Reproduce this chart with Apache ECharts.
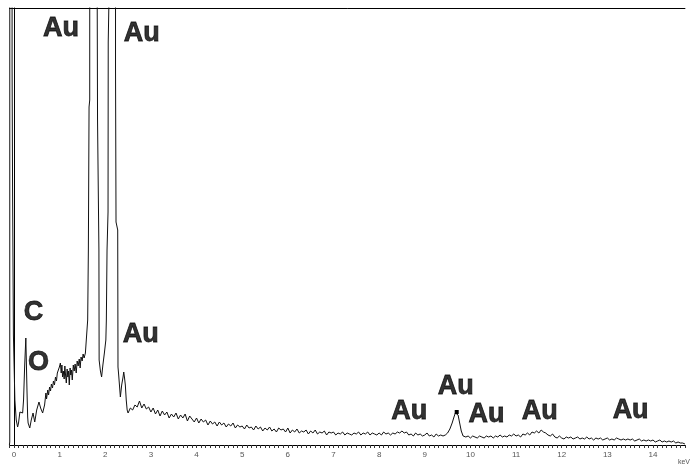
<!DOCTYPE html>
<html>
<head>
<meta charset="utf-8">
<script src="https://cdn.jsdelivr.net/npm/echarts@6/dist/echarts.min.js"></script>
<style>
  html, body { margin: 0; padding: 0; background: #fff; }
  #chart { width: 693px; height: 466px; }
</style>
</head>
<body>
<div id="chart"></div>
<script>
// EDS spectrum: counts vs energy (keV)

// Low-energy part: zero peak, C K, O K and the two strong M-line peaks (clipped at top)
const lowEnergy = [
  [-0.1, 0], [-0.092, 3], [-0.088, 6000], [-0.044, 6000], [-0.041, 380], [-0.03, 250],
  [-0.012, 110], [0.02, 45], [0.05, 25], [0.08, 18], [0.10, 22], [0.13, 33], [0.16, 35],
  [0.19, 32], [0.21, 45], [0.235, 80], [0.26, 107], [0.285, 55], [0.30, 28], [0.31, 22],
  [0.346, 17], [0.379, 25], [0.418, 32], [0.455, 23], [0.498, 35], [0.548, 43], [0.584, 37],
  [0.628, 32], [0.671, 40], [0.70, 52], [0.714, 46], [0.74, 55], [0.758, 50], [0.78, 58],
  [0.801, 54], [0.82, 61], [0.844, 57], [0.865, 64], [0.887, 60], [0.91, 68], [0.931, 64],
  [0.95, 72], [0.974, 70], [0.995, 78], [1.017, 82], [1.035, 72], [1.050, 80], [1.065, 68],
  [1.082, 74], [1.10, 66], [1.115, 79], [1.13, 70], [1.147, 62], [1.165, 76], [1.180, 68],
  [1.195, 74], [1.212, 60], [1.23, 77], [1.245, 70], [1.26, 75], [1.277, 65], [1.30, 80],
  [1.320, 74], [1.34, 81], [1.364, 72], [1.385, 84], [1.407, 79], [1.43, 86], [1.450, 77],
  [1.47, 88], [1.494, 84], [1.515, 91], [1.537, 87], [1.565, 92], [1.587, 93], [1.615, 125],
  [1.630, 195], [1.645, 338], [1.660, 345], [1.663, 6000], [1.820, 6000], [1.824, 437],
  [1.831, 325], [1.861, 195], [1.866, 85], [1.894, 74], [1.920, 68], [1.948, 80], [1.981, 92],
  [2.013, 105], [2.024, 125], [2.039, 195], [2.061, 233], [2.065, 403], [2.078, 437],
  [2.080, 6000], [2.221, 6000], [2.225, 378], [2.236, 223], [2.273, 215], [2.279, 78],
  [2.294, 70], [2.331, 48], [2.36, 60], [2.39, 68], [2.405, 73], [2.42, 68], [2.44, 60],
  [2.46, 45], [2.48, 35]
];

// Bremsstrahlung background, 0.05 keV channels from 2.50 keV
const bgStart1 = 2.50;
const bgCounts1 = [
  32, 37, 35, 40, 38, 44, 37, 41, 36, 38,
  33, 37, 31, 35, 29, 34, 30, 33, 27, 31,
  28, 32, 26, 30, 27, 31, 24, 29, 26, 23,
  27, 22, 26, 23, 25, 20, 24, 21, 23, 19,
  23, 20, 22, 18, 21, 19, 22, 17, 20, 18,
  19, 16, 20, 17, 18, 15, 19, 16, 18, 14,
  17, 15, 18, 14, 16, 13, 17, 15, 16, 13,
  17, 12, 15, 13, 16, 12, 14, 13, 15, 11,
  14, 12, 15, 11, 13, 12, 14, 10, 13, 12,
  13, 10, 12, 11, 13, 10, 12, 11, 10, 12,
  11, 13, 10, 12, 11, 13, 10, 12, 11, 10,
  12, 10, 13, 11, 12, 10, 12, 11, 13, 12,
  14, 12, 13, 10, 11, 9, 12, 10, 11, 9,
  10, 12, 9, 10, 8, 11, 9, 10, 9, 10
];

// L-alpha peak region
const lAlphaPeak = [
  [9.50, 12], [9.55, 16], [9.60, 22], [9.64, 28], [9.67, 32], [9.70, 33], [9.73, 30],
  [9.76, 23], [9.80, 14], [9.84, 9], [9.90, 8], [9.95, 9]
];

// Background above the L-alpha peak, 0.05 keV channels from 10.00 keV
const bgStart2 = 10.00;
const bgCounts2 = [
  7, 9, 8, 7, 9, 8, 7, 9, 8, 9,
  7, 9, 8, 10, 8, 9, 8, 10, 9, 11,
  9, 10, 8, 11, 10, 12, 10, 13, 12, 14,
  12, 15, 13, 12, 10, 9, 11, 8, 7, 9,
  7, 6, 8, 7, 8, 6, 7, 8, 6, 7,
  6, 8, 6, 7, 5, 7, 6, 7, 5, 6,
  7, 5, 6, 5, 7, 6, 5, 6, 5, 6,
  5, 6, 4, 5, 6, 4, 5, 4, 5, 4,
  5, 3, 4, 5, 3, 4, 3, 4, 3, 4,
  2, 3, 2, 2, 1
];
const channelWidth = 0.05;

// Peak labels: element, energy (keV), height (counts)
const peakLabels = [
  { text: 'Au', e: 1.03, v: 416 },
  { text: 'Au', e: 2.80, v: 411 },
  { text: 'C',  e: 0.43, v: 132 },
  { text: 'O',  e: 0.54, v: 82 },
  { text: 'Au', e: 2.78, v: 110 },
  { text: 'Au', e: 8.66, v: 33 },
  { text: 'Au', e: 9.68, v: 58 },
  { text: 'Au', e: 10.35, v: 30 },
  { text: 'Au', e: 11.52, v: 33 },
  { text: 'Au', e: 13.51, v: 34 }
];

const tickLabels = [0, 1, 2, 3, 4, 5, 6, 7, 8, 9, 10, 11, 12, 13, 14];
const xMin = -0.1, xMax = 14.7, yMax = 437;

function channels(start, counts) {
  return counts.map((c, i) => [+(start + i * channelWidth).toFixed(3), c]);
}
const spectrum = []
  .concat(lowEnergy)
  .concat(channels(bgStart1, bgCounts1))
  .concat(lAlphaPeak)
  .concat(channels(bgStart2, bgCounts2));

const minorTicks = [];
for (let k = -1; k <= 147; k++) minorTicks.push(+(k / 10).toFixed(1));

const chart = echarts.init(document.getElementById('chart'), null, { renderer: 'canvas' });
chart.setOption({
  animation: false,
  backgroundColor: '#fff',
  grid: { left: 9.4, right: 0, top: 8, bottom: 21 },
  xAxis: [{
    type: 'value', min: xMin, max: xMax, position: 'bottom',
    name: 'keV', nameLocation: 'end', nameGap: -7,
    nameTextStyle: { fontSize: 7, color: '#555', align: 'left', verticalAlign: 'top', padding: [14, 0, 0, 0] },
    axisLine: { show: true, lineStyle: { color: '#000', width: 1 } },
    axisTick: { show: true, customValues: minorTicks, length: 3, lineStyle: { color: '#333', width: 1 } },
    axisLabel: { customValues: tickLabels, fontSize: 8, color: '#555', margin: 6, fontFamily: 'Liberation Sans' },
    splitLine: { show: false }
  }, {
    type: 'value', min: xMin, max: xMax, position: 'top',
    axisLine: { show: true, lineStyle: { color: '#000', width: 1 } },
    axisTick: { show: false }, axisLabel: { show: false }, splitLine: { show: false }
  }],
  yAxis: {
    type: 'value', min: 0, max: yMax,
    axisLine: { show: true, lineStyle: { color: '#000', width: 1 } },
    axisTick: { show: false }, axisLabel: { show: false }, splitLine: { show: false }
  },
  series: [{
    type: 'line',
    data: spectrum,
    showSymbol: false,
    clip: true,
    lineStyle: { color: '#111', width: 1 },
    markPoint: {
      symbol: 'rect', symbolSize: [4, 4], silent: true,
      itemStyle: { color: '#000' }, label: { show: false },
      data: [{ coord: [9.70, 33] }]
    }
  }, {
    type: 'scatter',
    symbolSize: 0,
    silent: true,
    data: peakLabels.map(p => ({ name: p.text, value: [p.e, p.v] })),
    label: {
      show: true, position: 'inside', formatter: '{b}',
      fontFamily: 'Liberation Sans', fontWeight: 'bold', fontSize: 27, color: '#000',
      textBorderColor: '#000', textBorderWidth: 0.8
    },
    z: 5
  }]
});
</script>
</body>
</html>
